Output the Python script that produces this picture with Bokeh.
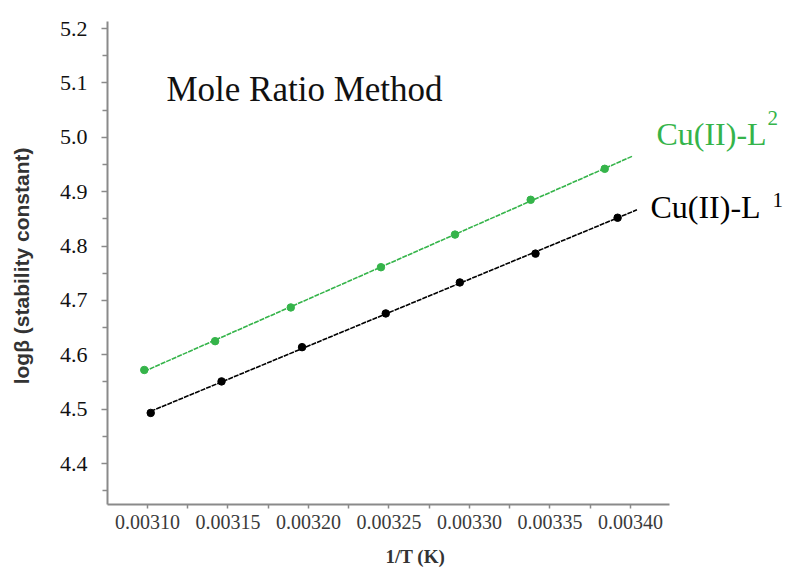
import numpy as np
from bokeh.plotting import figure
from bokeh.models import Range1d, FixedTicker, Label, Title
from bokeh.embed import file_html
from bokeh.resources import INLINE

# ---------------- data ----------------
x_l2 = [0.003098, 0.003142, 0.003189, 0.003245, 0.003291, 0.003338, 0.003384]
y_l2 = [4.572, 4.625, 4.687, 4.761, 4.821, 4.885, 4.942]
x_l1 = [0.003102, 0.003146, 0.003196, 0.003248, 0.003294, 0.003341, 0.003392]
y_l1 = [4.493, 4.551, 4.614, 4.676, 4.733, 4.786, 4.852]
fit_end_l2 = 0.003401
fit_end_l1 = 0.003404

x_ticks = [0.00310, 0.00315, 0.00320, 0.00325, 0.00330, 0.00335, 0.00340]
x_tick_labels = ["0.00310", "0.00315", "0.00320", "0.00325", "0.00330", "0.00335", "0.00340"]
y_ticks = [4.4, 4.5, 4.6, 4.7, 4.8, 4.9, 5.0, 5.1, 5.2]
y_tick_labels = ["4.4", "4.5", "4.6", "4.7", "4.8", "4.9", "5.0", "5.1", "5.2"]

title_text = "Mole Ratio Method"
label_l2 = "Cu(II)-L"
label_l1 = "Cu(II)-L"
x_title = "1/T  (K)"
y_title = "log\u03b2  (stability constant)"

GREEN = "#35b44a"
BLACK = "#000000"
AXIS = "#8a8a8a"
SERIF = "'Liberation Serif', 'Times New Roman', serif"

X_AXIS_START, X_AXIS_END = 0.00307516, 0.0034242

p = figure(width=797, height=569,
           x_range=Range1d(X_AXIS_START, 0.00350373),
           y_range=Range1d(4.3246, 5.2129),
           output_backend="svg", toolbar_location=None,
           min_border_left=107, min_border_right=0,
           min_border_top=21, min_border_bottom=65)
p.outline_line_color = None
p.xgrid.visible = False
p.ygrid.visible = False
p.background_fill_color = "white"
p.border_fill_color = "white"

# ---------------- fit lines + points ----------------
for xs, ys, xend, col in [(x_l2, y_l2, fit_end_l2, GREEN), (x_l1, y_l1, fit_end_l1, BLACK)]:
    m, b = np.polyfit(xs, ys, 1)
    fx = [xs[0], xend]
    fy = [m * v + b for v in fx]
    p.line(fx, fy, line_color=col, line_width=1.6, line_dash="5 1")
    p.scatter(xs, ys, marker="circle", size=7.5, fill_color=col, line_color=col)

# ---------------- axes ----------------
xminor = [x_ticks[0] - 0.000025] + [(a + c) / 2 for a, c in zip(x_ticks[:-1], x_ticks[1:])]
yminor = [y_ticks[0] - 0.05] + [(a + c) / 2 for a, c in zip(y_ticks[:-1], y_ticks[1:])]
p.xaxis.ticker = FixedTicker(ticks=x_ticks, minor_ticks=xminor)
p.yaxis.ticker = FixedTicker(ticks=y_ticks, minor_ticks=yminor)
p.xaxis.major_label_overrides = dict(zip(x_ticks, x_tick_labels))
p.yaxis.major_label_overrides = dict(zip(y_ticks, y_tick_labels))
p.xaxis.bounds = (X_AXIS_START, X_AXIS_END)

for ax in (p.xaxis[0], p.yaxis[0]):
    ax.axis_line_color = AXIS
    ax.axis_line_width = 2
    ax.major_tick_line_color = AXIS
    ax.minor_tick_line_color = AXIS
    ax.major_tick_line_width = 1.5
    ax.minor_tick_line_width = 1.5
    ax.major_tick_in = 0
    ax.minor_tick_in = 0
    ax.major_label_text_font = SERIF

p.yaxis.major_label_text_font_size = "22px"
p.yaxis.major_tick_out = 6
p.yaxis.minor_tick_out = 5
p.yaxis.major_label_standoff = 14
p.yaxis.major_label_text_color = "#111111"
p.yaxis.axis_label = y_title
p.yaxis.axis_label_text_font = "'Liberation Sans', Arial, sans-serif"
p.yaxis.axis_label_text_font_style = "bold"
p.yaxis.axis_label_text_font_size = "21px"
p.yaxis.axis_label_text_color = "#333333"
p.yaxis.axis_label_standoff = 24

p.xaxis.major_label_text_font_size = "20px"
p.xaxis.major_tick_out = 4
p.xaxis.minor_tick_out = 4
p.xaxis.major_label_standoff = 6
p.xaxis.major_label_text_color = "#3a3a3a"

# spacer between the tick labels and the x title
p.add_layout(Title(text=" ", text_font_size="1px", standoff=9), "below")
p.add_layout(Title(text=x_title, align="left", offset=278, text_font=SERIF,
                   text_font_style="bold", text_font_size="19px",
                   text_color="#333333", standoff=0), "below")

# ---------------- annotations ----------------
p.add_layout(Label(x=0.0031118, y=5.0878, text=title_text, text_font=SERIF,
                   text_font_size="35px", text_color="#111111",
                   text_baseline="alphabetic"))
p.add_layout(Label(x=0.0034161, y=5.0069, text=label_l2, text_font=SERIF,
                   text_font_size="32px", text_color=GREEN, text_baseline="alphabetic"))
p.add_layout(Label(x=0.0034161, y=5.0363, x_offset=111, text="2", text_font=SERIF,
                   text_font_size="21px", text_color=GREEN, text_baseline="alphabetic"))
p.add_layout(Label(x=0.0034124, y=4.8726, text=label_l1, text_font=SERIF,
                   text_font_size="32px", text_color=BLACK, text_baseline="alphabetic"))
p.add_layout(Label(x=0.0034124, y=4.8855, x_offset=122, text="1", text_font=SERIF,
                   text_font_size="21px", text_color=BLACK, text_baseline="alphabetic"))

open("out.html", "w").write(file_html(p, INLINE))
